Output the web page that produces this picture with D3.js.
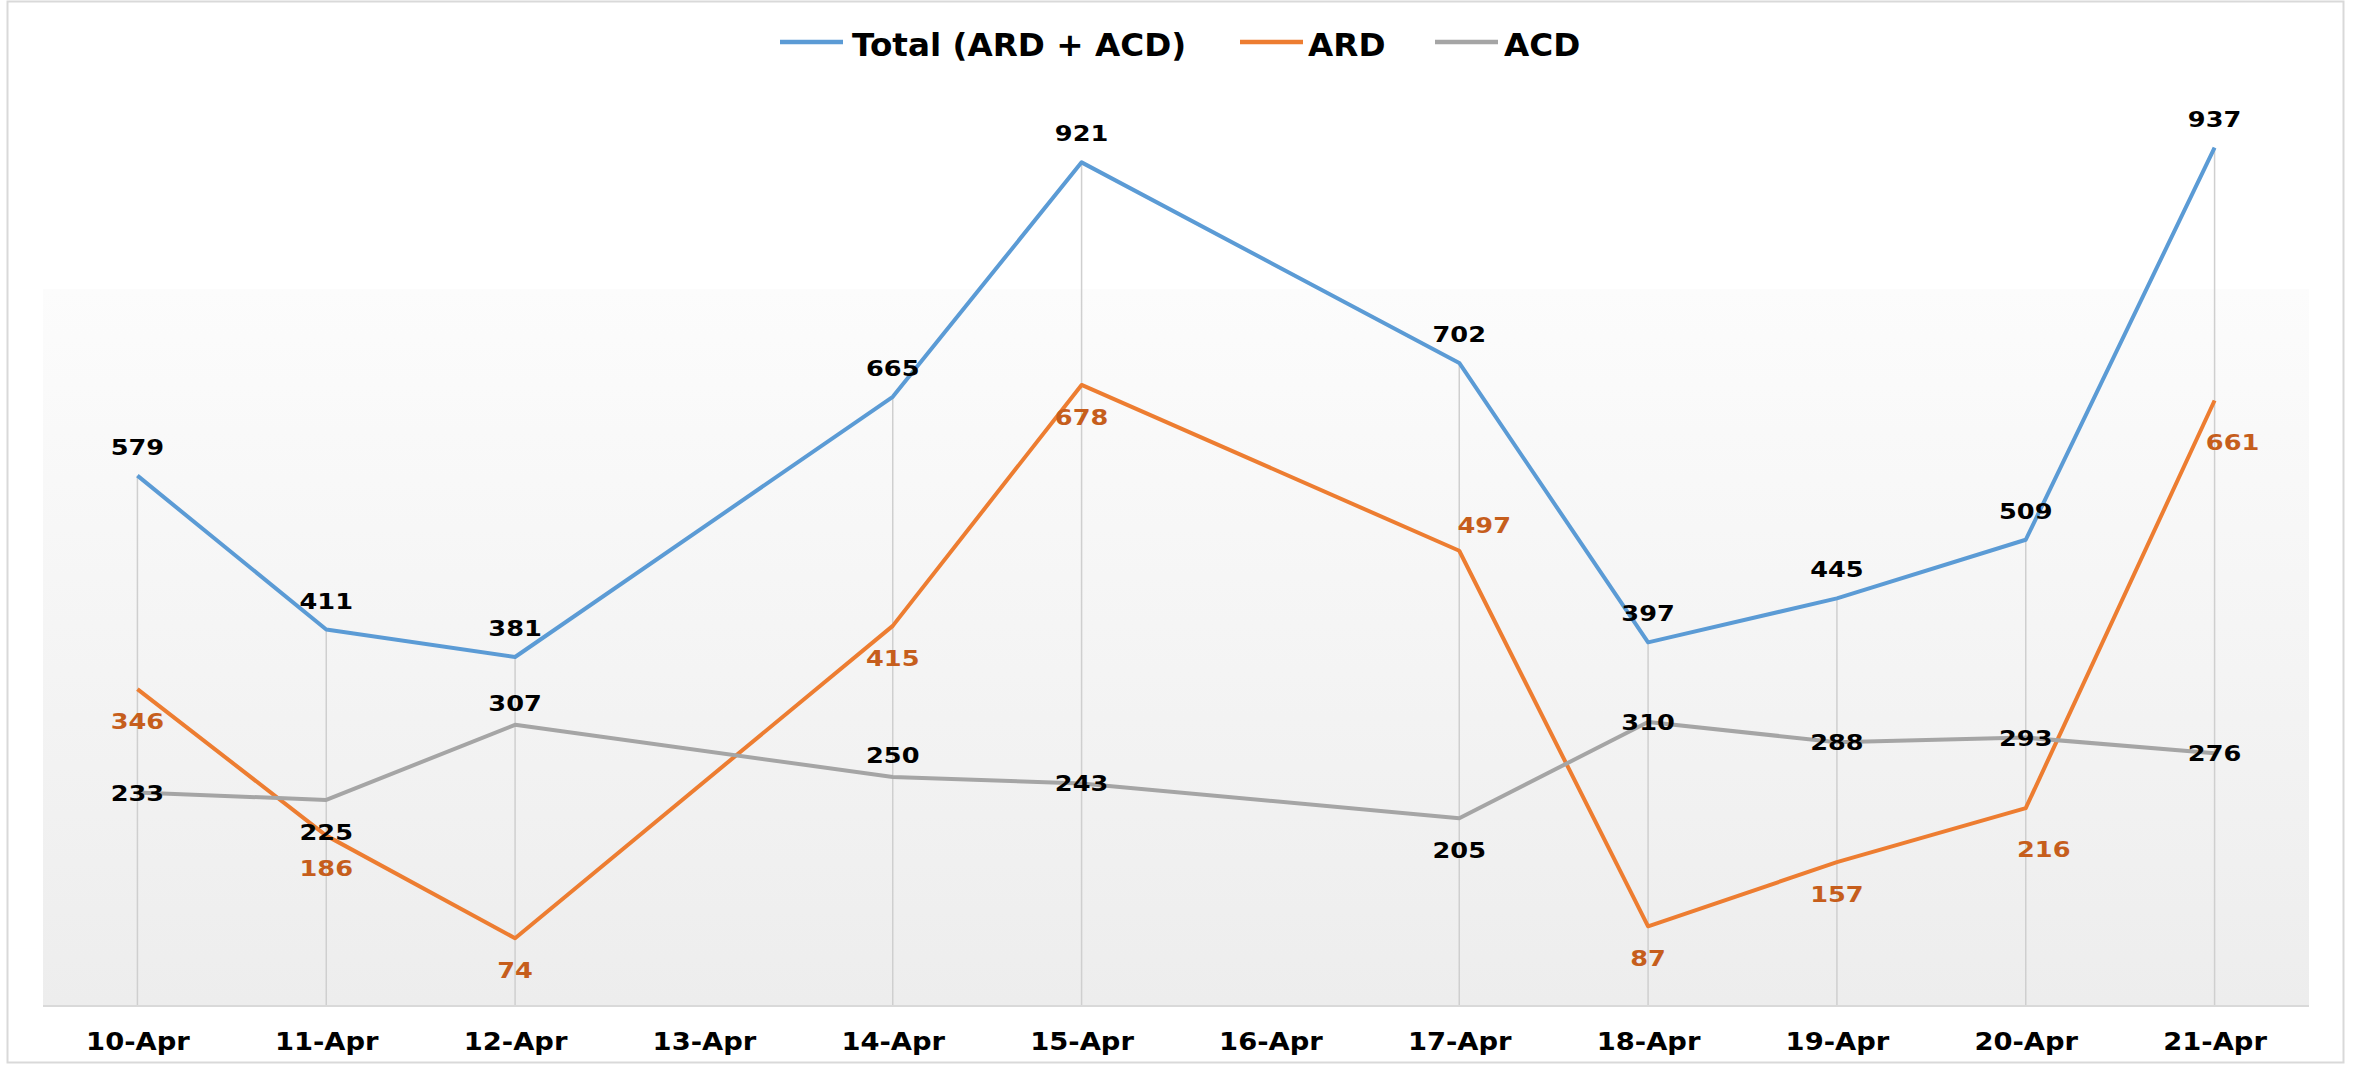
<!DOCTYPE html>
<html>
<head>
<meta charset="utf-8">
<script src="https://cdn.jsdelivr.net/npm/d3@7"></script>
<style>
  body { margin: 0; background: #fff; }
  svg { display: block; font-family: 'DejaVu Sans', sans-serif; font-weight: bold; }
</style>
</head>
<body>
<svg width="2359" height="1066"></svg>
<script>
WIDTH = 2359;
HEIGHT = 1066;

// categories
const dates = ['10-Apr', '11-Apr', '12-Apr', '13-Apr', '14-Apr', '15-Apr',
  '16-Apr', '17-Apr', '18-Apr', '19-Apr', '20-Apr', '21-Apr'];

// series values (13-Apr and 16-Apr have no data)
const totalValues = [579, 411, 381, null, 665, 921, null, 702, 397, 445, 509, 937];
const ardValues = [346, 186, 74, null, 415, 678, null, 497, 87, 157, 216, 661];
const acdValues = [233, 225, 307, null, 250, 243, null, 205, 310, 288, 293, 276];

// where each data label sits relative to its point
const totalLabelPos = ['above', 'above', 'above', null, 'above', 'above', null, 'above', 'above', 'above', 'above', 'above'];
const ardLabelPos = ['below', 'below', 'below', null, 'below', 'below', null, 'right', 'below', 'below', 'belowRight', 'belowRight'];
const acdLabelPos = ['center', 'below', 'above', null, 'above', 'center', null, 'below', 'center', 'center', 'center', 'center'];

const series = [
  {name: 'Total (ARD + ACD)', values: totalValues, pos: totalLabelPos, color: '#5B9BD5', labelColor: '#000', above: -21},
  {name: 'ARD', values: ardValues, pos: ardLabelPos, color: '#ED7D31', labelColor: '#C65E1C', above: -17},
  {name: 'ACD', values: acdValues, pos: acdLabelPos, color: '#A5A5A5', labelColor: '#000', above: -14},
];

const plot = {left: 43, right: 2309, top: 289, bottom: 1005};

const svg = d3.select('svg');

// squeeze/stretch a text to mimic the wide look of the original font
function stretch(sel, factor) {
  sel.each(function () {
    const w = this.getComputedTextLength();
    d3.select(this)
      .attr('textLength', w * factor)
      .attr('lengthAdjust', 'spacingAndGlyphs');
  });
}

function drawChart() {
  const x = d3.scalePoint()
    .domain(dates)
    .range([plot.left, plot.right])
    .padding(0.5);
  const y = d3.scaleLinear().domain([0, 1000]).range([1006, 90]);

  // chart border
  svg.append('rect')
    .attr('x', 7.5).attr('y', 1.5)
    .attr('width', 2336).attr('height', 1061)
    .attr('fill', '#fff')
    .attr('stroke', '#d9d9d9')
    .attr('stroke-width', 2);

  // plot background gradient
  const grad = svg.append('defs').append('linearGradient')
    .attr('id', 'bg').attr('x1', 0).attr('y1', 0).attr('x2', 0).attr('y2', 1);
  grad.append('stop').attr('offset', '0%').attr('stop-color', '#fcfcfc');
  grad.append('stop').attr('offset', '100%').attr('stop-color', '#ededed');

  svg.append('rect')
    .attr('x', plot.left).attr('y', plot.top)
    .attr('width', plot.right - plot.left)
    .attr('height', plot.bottom - plot.top)
    .attr('fill', 'url(#bg)');

  // drop lines from the highest point of each category
  const tops = dates.map((d, i) => {
    const vals = series.map((s) => s.values[i]).filter((v) => v != null);
    return vals.length ? {date: d, max: d3.max(vals)} : null;
  }).filter((d) => d);

  svg.append('g').selectAll('line')
    .data(tops)
    .join('line')
    .attr('x1', (d) => x(d.date))
    .attr('x2', (d) => x(d.date))
    .attr('y1', (d) => y(d.max))
    .attr('y2', y(0))
    .attr('stroke', '#cfcfcf')
    .attr('stroke-width', 1.5);

  // category axis
  const xAxis = svg.append('g')
    .attr('transform', `translate(0, ${y(0)})`)
    .call(d3.axisBottom(x).tickSize(0).tickPadding(0));
  xAxis.select('.domain')
    .attr('d', `M${plot.left},0H${plot.right}`)
    .attr('stroke', '#d9d9d9')
    .attr('stroke-width', 2);
  xAxis.selectAll('.tick text')
    .attr('dy', null)
    .attr('y', 44)
    .attr('fill', '#000')
    .style('font-family', "'DejaVu Sans', sans-serif")
    .style('font-weight', 'bold')
    .style('font-size', '24px')
    .call(stretch, 1.14);

  // lines (gaps are bridged)
  const line = d3.line()
    .x((d) => x(d.date))
    .y((d) => y(d.value));

  series.forEach((s) => {
    const pts = dates.map((d, i) => ({date: d, value: s.values[i], pos: s.pos[i]}))
      .filter((p) => p.value != null);
    s.points = pts;
    svg.append('path')
      .datum(pts)
      .attr('fill', 'none')
      .attr('stroke', s.color)
      .attr('stroke-width', 4)
      .attr('stroke-linejoin', 'round')
      .attr('d', line);
  });

  // data labels
  series.forEach((s) => {
    svg.append('g').selectAll('text')
      .data(s.points)
      .join('text')
      .attr('text-anchor', 'middle')
      .attr('font-size', 21)
      .attr('fill', s.labelColor)
      .attr('x', (d) => {
        if (d.pos === 'right') return x(d.date) + 25;
        if (d.pos === 'belowRight') return x(d.date) + 18;
        return x(d.date);
      })
      .attr('y', (d) => {
        const py = y(d.value);
        if (d.pos === 'above') return py + s.above;
        if (d.pos === 'right') return py - 18;
        if (d.pos === 'center') return py + 8;
        if (d.pos === 'belowRight') return py + 49;
        return py + 40;
      })
      .text((d) => d.value)
      .call(stretch, 1.22);
  });

  // legend
  const legendItems = [
    {s: series[0], x1: 780, x2: 843, tx: 852},
    {s: series[1], x1: 1240, x2: 1303, tx: 1308},
    {s: series[2], x1: 1435, x2: 1498, tx: 1504},
  ];
  const legend = svg.append('g');
  legendItems.forEach((d) => {
    legend.append('line')
      .attr('x1', d.x1).attr('x2', d.x2)
      .attr('y1', 42).attr('y2', 42)
      .attr('stroke', d.s.color)
      .attr('stroke-width', 4.5);
    legend.append('text')
      .attr('x', d.tx)
      .attr('y', 56)
      .attr('font-size', 32)
      .attr('fill', '#000')
      .text(d.s.name)
      .call(stretch, 1.02);
  });
}

drawChart();
</script>
</body>
</html>
